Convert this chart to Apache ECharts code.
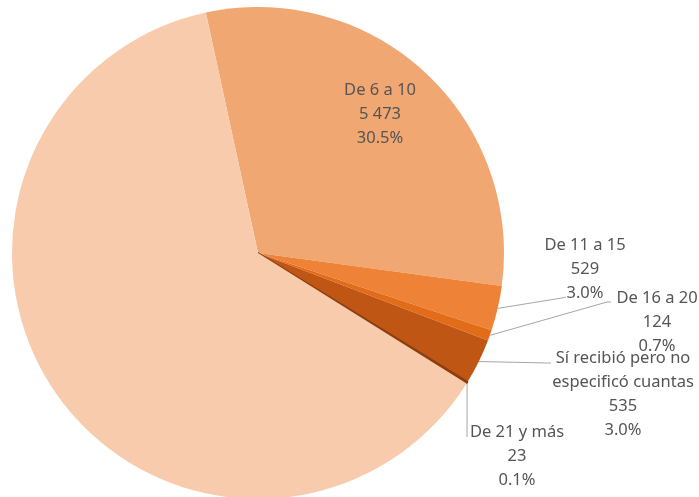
<!DOCTYPE html>
<html>
<head>
<meta charset="utf-8">
<script src="https://cdn.jsdelivr.net/npm/echarts@6/dist/echarts.min.js"></script>
<style>
  html, body { margin: 0; padding: 0; background: #fff; }
  #chart { width: 699px; height: 497px; }
</style>
</head>
<body>
<div id="chart"></div>
<script>
  const categories = ['De 6 a 10', 'De 11 a 15', 'De 16 a 20', 'Sí recibió pero no\nespecificó cuantas', 'De 21 y más', 'De 1 a 5']
  const values = [5473, 529, 124, 535, 23, 11237]
  const colors = ['#f1a772', '#ee8237', '#e36c18', '#c05614', '#8a3f0f', '#f8cbad']

  // label placement: center x, top y of the text block, and where the leader line meets it
  const labelPos = [
    {x: 380, y: 78},
    {x: 585, y: 233, line: [[562, 298], [566, 297]]},
    {x: 657, y: 286, line: [[607, 302], [611, 302]]},
    {x: 623, y: 346, line: [[548, 363], [551, 363]]},
    {x: 517, y: 420, line: [[467, 437], [467, 437]]},
    {x: 197, y: 365}
  ]

  const fmt = n => String(n).replace(/\B(?=(\d{3})+(?!\d))/g, ' ')

  let chart = echarts.init(document.getElementById('chart'), null, {renderer: 'canvas'})
  chart.setOption({
    animation: false,
    series: [{
      type: 'pie',
      center: [258, 253],
      radius: 246,
      startAngle: 102.25,
      clockwise: true,
      percentPrecision: 1,
      label: {
        show: true,
        position: 'outside',
        color: '#555',
        fontFamily: 'Noto Sans',
        fontSize: 16.5,
        lineHeight: 24,
        align: 'center',
        formatter: p => p.name + '\n' + fmt(p.value) + '\n' + p.percent.toFixed(1) + '%'
      },
      labelLine: {
        show: true,
        lineStyle: {color: '#a6a6a6', width: 1}
      },
      labelLayout: params => {
        let lp = labelPos[params.dataIndex]
        let out = {x: lp.x, y: lp.y, align: 'center', verticalAlign: 'top'}
        if (lp.line && params.labelLinePoints) {
          out.labelLinePoints = [params.labelLinePoints[0], lp.line[0], lp.line[1]]
        }
        return out
      },
      data: categories.map((c, i) => ({
        name: c,
        value: values[i],
        itemStyle: i == 4
          ? {color: colors[i], borderColor: colors[i], borderWidth: 1.5}
          : {color: colors[i]},
        labelLine: {show: !!labelPos[i].line}
      }))
    }]
  })
</script>
</body>
</html>
